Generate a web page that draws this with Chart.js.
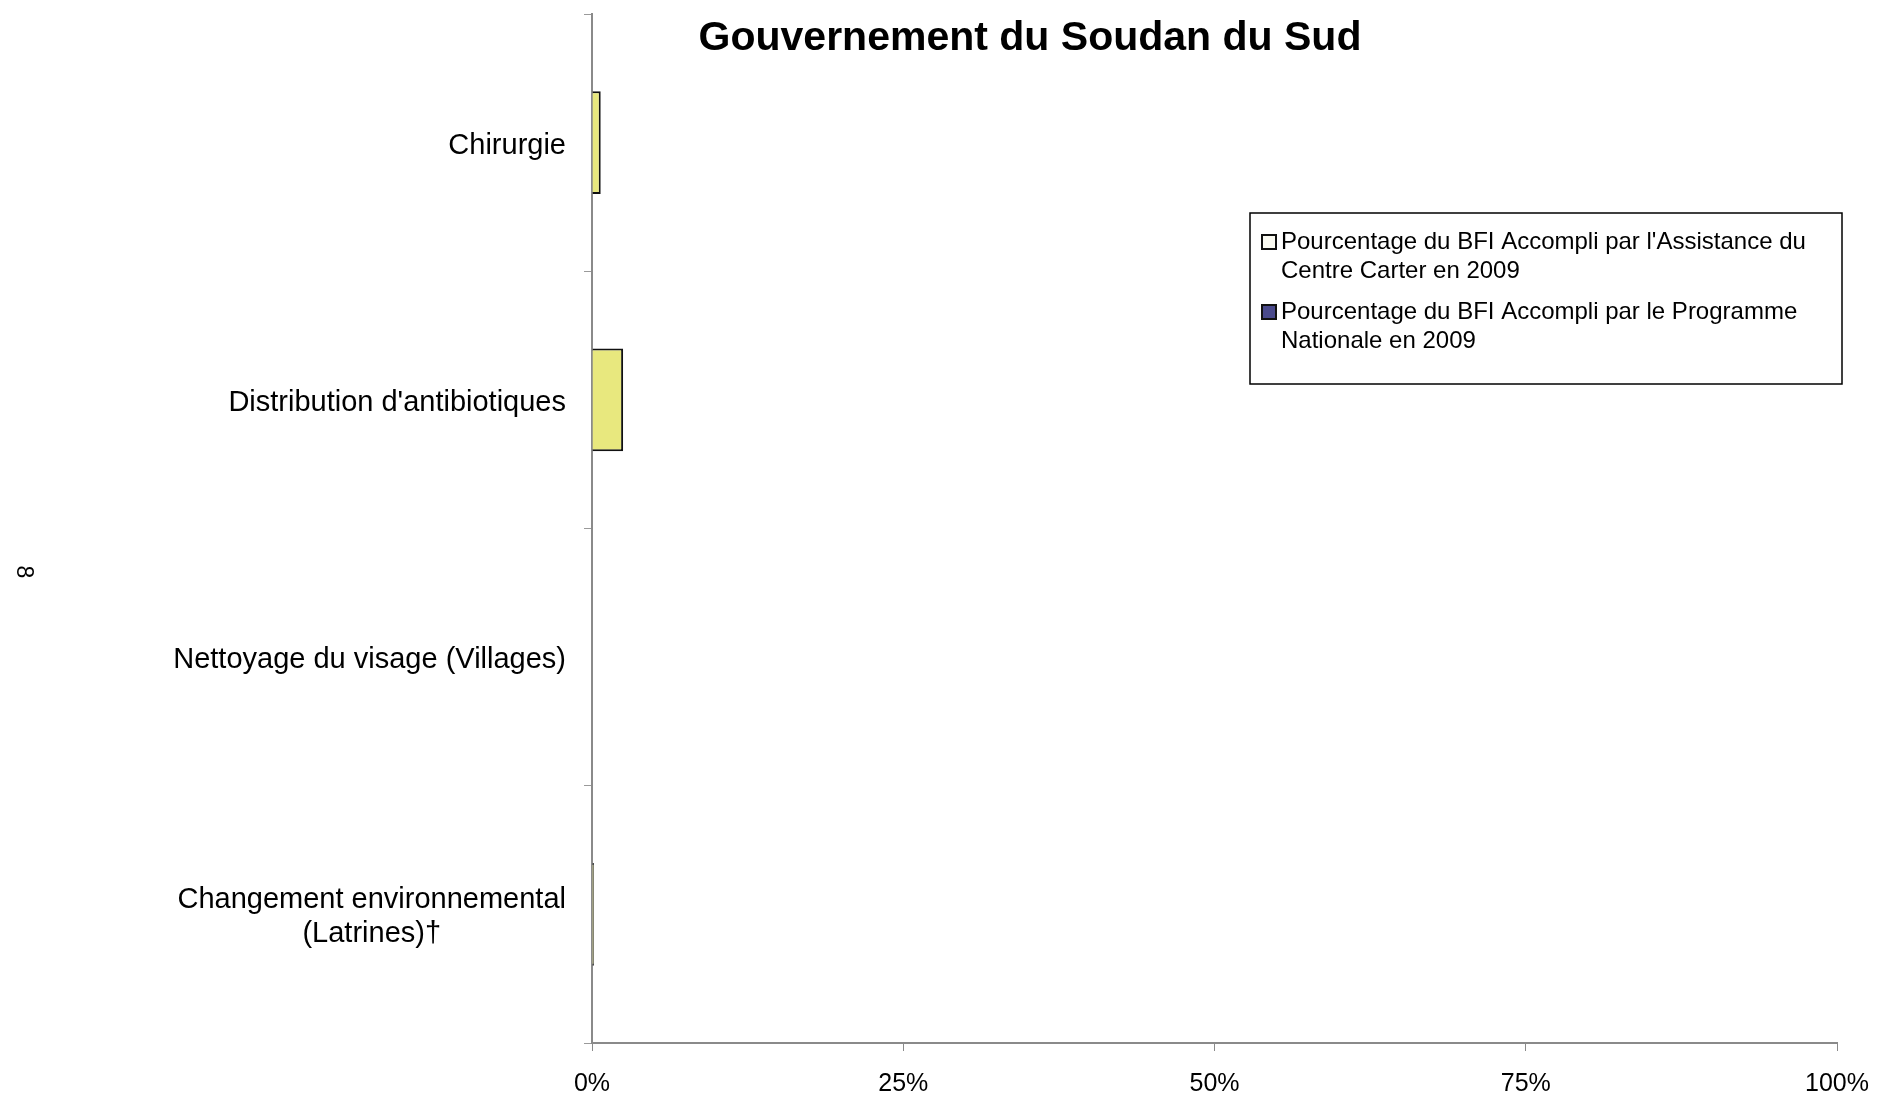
<!DOCTYPE html>
<html>
<head>
<meta charset="utf-8">
<script src="https://cdn.jsdelivr.net/npm/chart.js@4"></script>
<style>
  body { margin: 0; background: #fff; }
  canvas { display: block; }
</style>
</head>
<body>
<canvas id="bfiChart" width="1878" height="1101"></canvas>
<script>
const categories = [
    ["Chirurgie"],
    ["Distribution d'antibiotiques"],
    ["Nettoyage du visage (Villages)"],
    ["Changement environnemental", "(Latrines)†"]
];
const carterValues = [0.7, 2.5, 0, 0.15];
const nationalValues = [0, 0, 0, 0];
const xTicks = [0, 25, 50, 75, 100];
const seriesNames = [
    "Pourcentage du BFI Accompli par l'Assistance du Centre Carter en 2009",
    "Pourcentage du BFI Accompli par le Programme Nationale en 2009"
];
const titleText = "Gouvernement du Soudan du Sud";

const FONT = "'Liberation Sans', Arial, sans-serif";
const ctxEl = document.getElementById("bfiChart");

// titre, numéro de page, étiquettes de catégories et légende dessinés à la main
const extras = {
    id: "extras",
    afterDraw(chart) {
        const ctx = chart.ctx;
        const yScale = chart.scales.y;
        ctx.save();

        // titre
        ctx.fillStyle = "#000";
        ctx.font = "bold 41px " + FONT;
        ctx.textAlign = "center";
        ctx.textBaseline = "middle";
        ctx.fillText(titleText, 1030, 39);

        // numéro de page (tourné)
        ctx.save();
        ctx.translate(23, 572);
        ctx.rotate(Math.PI / 2);
        ctx.font = "23px " + FONT;
        ctx.fillText("8", 0, 0);
        ctx.restore();

        // étiquettes de catégories
        ctx.font = "29px " + FONT;
        const right = yScale.right - 26;
        categories.forEach((lines, i) => {
            const yc = yScale.getPixelForValue(i) + 3;
            const maxW = Math.max(...lines.map(l => ctx.measureText(l).width));
            const lh = 34;
            const y0 = yc - (lines.length - 1) * lh / 2;
            lines.forEach((l, j) => {
                ctx.textAlign = "center";
                ctx.fillText(l, right - maxW / 2, y0 + j * lh);
            });
        });

        // légende
        const bx = 1250, by = 213, bw = 592, bh = 171;
        ctx.strokeStyle = "#000";
        ctx.lineWidth = 1.5;
        ctx.strokeRect(bx, by, bw, bh);
        ctx.font = "24px " + FONT;
        ctx.textAlign = "left";
        const swatch = ["#fbfbf2", "#4a4a8c"];
        const maxText = bw - 40;
        let y = by + 29;
        chart.data.datasets.forEach((ds, i) => {
            const words = ds.label.split(" ");
            const lines = [];
            let cur = "";
            words.forEach(w => {
                const t = cur ? cur + " " + w : w;
                if (ctx.measureText(t).width > maxText && cur) {
                    lines.push(cur);
                    cur = w;
                } else {
                    cur = t;
                }
            });
            lines.push(cur);
            ctx.fillStyle = swatch[i];
            ctx.fillRect(bx + 12, y - 7, 14, 14);
            ctx.strokeStyle = "#111";
            ctx.lineWidth = 2;
            ctx.strokeRect(bx + 12, y - 7, 14, 14);
            ctx.fillStyle = "#000";
            lines.forEach((l, j) => ctx.fillText(l, bx + 31, y + j * 29));
            y += 70;
        });

        ctx.restore();
    }
};

const bfiChart = new Chart(ctxEl, {
    type: "bar",
    data: {
        labels: categories.map(c => c.join(" ")),
        datasets: [{
            label: seriesNames[0],
            data: carterValues,
            backgroundColor: "#e8e87e",
            borderColor: "#111",
            borderWidth: 2,
            categoryPercentage: 0.8,
            barPercentage: 0.5
        }, {
            label: seriesNames[1],
            data: nationalValues,
            backgroundColor: "#4a4a8c",
            borderColor: "#111",
            borderWidth: 2,
            categoryPercentage: 0.8,
            barPercentage: 0.5
        }]
    },
    options: {
        indexAxis: "y",
        responsive: false,
        animation: false,
        layout: { padding: { top: 14, right: 41, left: 0, bottom: 0 } },
        plugins: {
            legend: { display: false },
            tooltip: { enabled: false }
        },
        scales: {
            x: {
                stacked: true,
                min: 0,
                max: 100,
                afterBuildTicks: scale => { scale.ticks = xTicks.map(v => ({ value: v })); },
                ticks: {
                    callback: v => v + "%",
                    color: "#000",
                    font: { family: FONT, size: 25 },
                    padding: 18,
                    maxRotation: 0
                },
                grid: { drawOnChartArea: false, tickLength: 8, color: "#8a8a8a" },
                border: { color: "#8a8a8a", width: 2 },
                afterFit: scale => {
                    scale.height = 58;
                    scale.paddingRight = 0;
                    scale.paddingLeft = 0;
                }
            },
            y: {
                stacked: true,
                ticks: { display: false },
                grid: { drawOnChartArea: false, tickLength: 8, color: "#9a9a9a", offset: true },
                border: { color: "#8a8a8a", width: 2 },
                afterFit: scale => { scale.width = 592; }
            }
        }
    },
    plugins: [extras]
});
</script>
</body>
</html>
